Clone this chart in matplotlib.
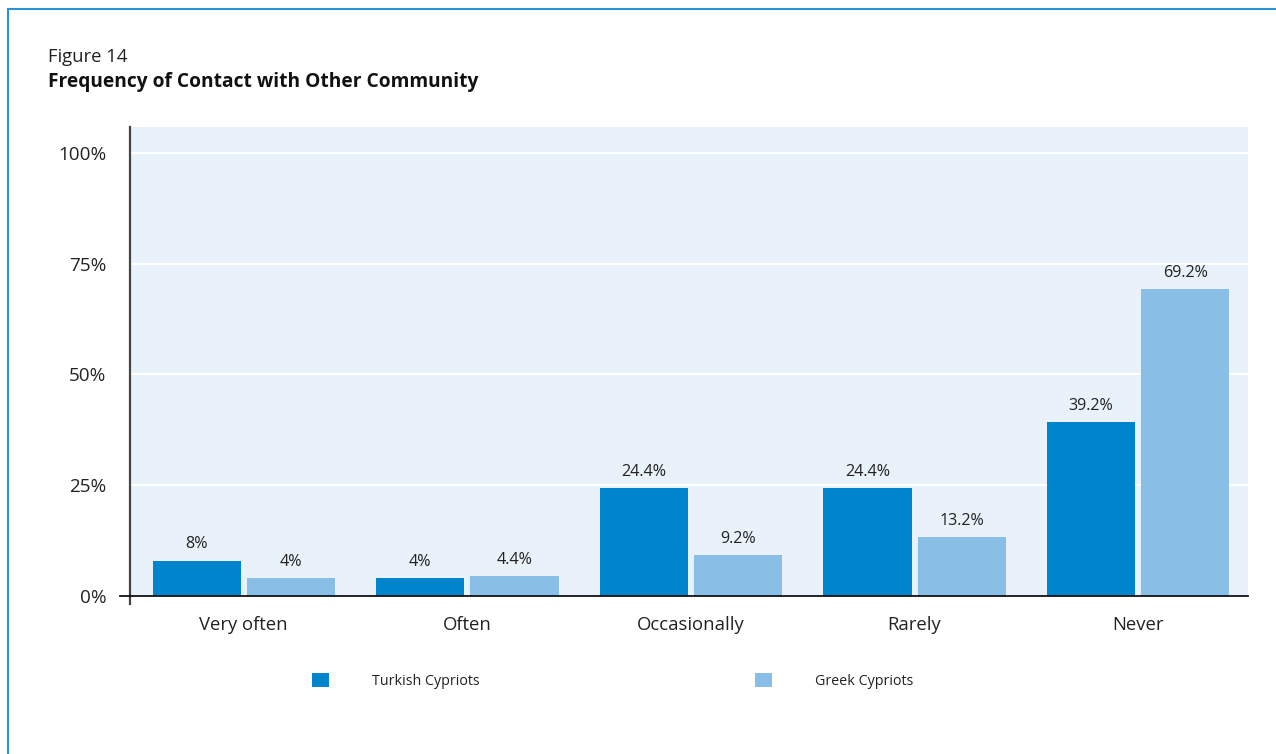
import numpy as np
import matplotlib.pyplot as plt
from matplotlib.lines import Line2D

plt.rcParams['font.family'] = ['Open Sans', 'DejaVu Sans']

categorias = ['Very often', 'Often', 'Occasionally', 'Rarely', 'Never']
turkish = [8, 4, 24.4, 24.4, 39.2]
greek = [4, 4.4, 9.2, 13.2, 69.2]
etiquetas_turkish = ['8%', '4%', '24.4%', '24.4%', '39.2%']
etiquetas_greek = ['4%', '4.4%', '9.2%', '13.2%', '69.2%']
yticks = [0, 25, 50, 75, 100]

AZUL = '#0085CC'
AZUL_CLARO = '#89BEE6'
FONDO = '#E9F1FA'
MARCO = '#2A93D8'
TEXTO = '#222222'

fig = plt.figure(figsize=(12.76, 7.54), dpi=100)
ax = fig.add_axes([130 / 1276, 1 - 596 / 754, 1118 / 1276, 469 / 754])
ax.set_facecolor(FONDO)

x = np.arange(len(categorias))
ancho = 0.394
sep = 0.0135
b1 = ax.bar(x - sep - ancho / 2, turkish, ancho, color=AZUL, label='Turkish Cypriots', zorder=3)
b2 = ax.bar(x + sep + ancho / 2, greek, ancho, color=AZUL_CLARO, label='Greek Cypriots', zorder=3)

for barras, etiquetas in [(b1, etiquetas_turkish), (b2, etiquetas_greek)]:
    for barra, txt in zip(barras, etiquetas):
        ax.annotate(txt, (barra.get_x() + barra.get_width() / 2, barra.get_height()),
                    xytext=(0, 6), textcoords='offset points', ha='center', va='bottom',
                    fontsize=11.6, color=TEXTO)

ax.set_xlim(-0.509, len(categorias) - 0.509)
ax.set_ylim(0, 105.8)
ax.set_yticks(yticks)
ax.set_yticklabels([f'{v}%' for v in yticks])
ax.set_xticks(x)
ax.set_xticklabels(categorias)
ax.tick_params(axis='y', length=0, pad=17, labelsize=13.6, labelcolor=TEXTO)
ax.tick_params(axis='x', length=0, pad=14.5, labelsize=13.3, labelcolor=TEXTO)
ax.yaxis.grid(True, color='white', linewidth=1.5, zorder=1)
ax.set_axisbelow(True)
for s in ax.spines.values():
    s.set_visible(False)

# ejes dibujados a mano para que sobresalgan un poco
ax.add_line(Line2D([0, 0], [-0.017, 1], transform=ax.transAxes, color='#444444',
                   linewidth=1.6, clip_on=False, zorder=4))
ax.add_line(Line2D([-0.009, 1], [0, 0], transform=ax.transAxes, color='#111111',
                   linewidth=1.3, clip_on=False, zorder=4))

# leyenda
fig.legend(handles=[b1, b2], loc='center left', bbox_to_anchor=(312 / 1276, 1 - 681 / 754),
           ncol=2, frameon=False, fontsize=10.3, handlelength=1.22, handleheight=1.15,
           handletextpad=3.0, columnspacing=19.2, borderpad=0, borderaxespad=0,
           labelcolor=TEXTO)

# titulos
fig.text(48 / 1276, 1 - 62 / 754, 'Figure 14', fontsize=13.3, color=TEXTO, va='baseline')
fig.text(48 / 1276, 1 - 87 / 754, 'Frequency of Contact with Other Community', fontsize=13.8,
         fontweight='bold', color='#111111', va='baseline')

# marco azul
fig.add_artist(Line2D([8 / 1276, 8 / 1276], [0, 1 - 9 / 754], transform=fig.transFigure,
                      color=MARCO, linewidth=1.5))
fig.add_artist(Line2D([8 / 1276, 1], [1 - 9 / 754, 1 - 9 / 754], transform=fig.transFigure,
                      color=MARCO, linewidth=1.5))

fig.savefig('out.png', dpi=100)
